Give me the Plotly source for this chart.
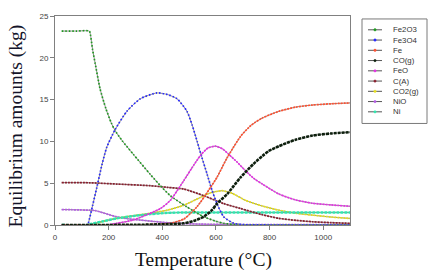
import plotly.graph_objects as go

# ---------------- data ----------------
fe2o3_x = [25, 80, 128, 132, 140, 150, 168, 190, 210, 224, 250, 291, 354, 393, 430, 492, 555, 600, 629, 670, 720, 800, 1100]
fe2o3_y = [23.2, 23.2, 23.2, 22.8, 21.0, 19.3, 16.3, 13.9, 12.2, 11.3, 10.1, 8.5, 6.1, 4.7, 3.5, 2.16, 0.98, 0.45, 0.2, 0.06, 0.01, 0.0, 0.0]

fe3o4_x = [25, 121, 125, 140, 156, 175, 193, 224, 268, 318, 380, 420, 455, 492, 511, 530, 548, 567, 586, 604, 629, 667, 700, 800, 1100]
fe3o4_y = [0.0, 0.0, 0.3, 2.3, 4.5, 7.2, 9.3, 11.4, 13.6, 15.1, 15.8, 15.6, 15.1, 13.6, 12.0, 10.0, 8.05, 6.1, 4.1, 2.56, 0.98, 0.2, 0.05, 0.0, 0.0]

fe_x = [25, 300, 350, 400, 430, 480, 505, 530, 555, 580, 604, 642, 692, 730, 773, 835, 897, 960, 1030, 1100]
fe_y = [0.0, 0.0, 0.05, 0.12, 0.2, 0.7, 1.38, 2.2, 3.3, 4.5, 5.7, 8.05, 10.6, 11.9, 12.8, 13.6, 14.1, 14.35, 14.5, 14.6]

co_x = [25, 300, 393, 480, 523, 555, 586, 604, 642, 692, 740, 773, 797, 835, 897, 960, 1030, 1100]
co_y = [0.0, 0.02, 0.08, 0.2, 0.55, 1.0, 1.8, 2.56, 3.7, 5.7, 7.3, 8.25, 8.85, 9.43, 10.2, 10.7, 10.95, 11.1]

feo_x = [25, 190, 230, 292, 393, 430, 480, 510, 542, 570, 598, 625, 648, 680, 710, 740, 773, 835, 897, 960, 1030, 1100]
feo_y = [0.0, 0.0, 0.2, 0.6, 1.97, 2.95, 5.3, 6.8, 8.3, 9.2, 9.43, 9.1, 8.45, 7.5, 6.5, 5.6, 4.9, 3.7, 3.0, 2.6, 2.4, 2.24]

ca_x = [25, 130, 230, 355, 420, 480, 555, 629, 692, 770, 834, 900, 960, 1030, 1100]
ca_y = [5.07, 5.05, 4.9, 4.7, 4.5, 4.3, 3.5, 2.56, 1.97, 1.25, 0.8, 0.55, 0.39, 0.28, 0.2]

co2_x = [25, 125, 143, 180, 230, 300, 355, 418, 480, 542, 580, 623, 660, 710, 770, 835, 900, 960, 1030, 1100]
co2_y = [0.0, 0.0, 0.1, 0.45, 0.8, 1.15, 1.4, 1.77, 2.36, 3.3, 3.85, 4.1, 3.8, 2.95, 2.3, 1.77, 1.4, 1.18, 0.95, 0.79]

nio_x = [25, 131, 150, 168, 200, 230, 270, 318, 370, 417, 480, 542, 700, 1100]
nio_y = [1.85, 1.77, 1.72, 1.57, 1.25, 0.98, 0.75, 0.59, 0.42, 0.28, 0.17, 0.1, 0.06, 0.05]

ni_x = [25, 125, 131, 180, 230, 300, 355, 420, 480, 600, 800, 1100]
ni_y = [0.0, 0.0, 0.1, 0.45, 0.79, 1.1, 1.3, 1.45, 1.5, 1.5, 1.5, 1.5]

names = ["Fe2O3", "Fe3O4", "Fe", "CO(g)", "FeO", "C(A)", "CO2(g)", "NiO", "Ni"]
colors = ["#1f9a1f", "#2a2aff", "#ff5030", "#0d1f0d", "#e62ee6", "#8a1f2e", "#e8e01a", "#b45ae6", "#2ee8b0"]
xs = [fe2o3_x, fe3o4_x, fe_x, co_x, feo_x, ca_x, co2_x, nio_x, ni_x]
ys = [fe2o3_y, fe3o4_y, fe_y, co_y, feo_y, ca_y, co2_y, nio_y, ni_y]

x_ticks = [0, 200, 400, 600, 800, 1000]
y_ticks = [0, 5, 10, 15, 20, 25]

# ---------------- figure ----------------
fig = go.Figure()
draw_order = [7, 6, 8, 5, 0, 1, 4, 2, 3]
for i in draw_order:
    # grey underlying line (SigmaPlot style)
    fig.add_trace(go.Scatter(x=xs[i], y=ys[i], mode="lines", showlegend=False,
                             line=dict(color="#8a8a8a", width=1, shape="spline", smoothing=0.6),
                             hoverinfo="skip"))
    w = 1.7
    dash = "2px,1px"
    if names[i] == "CO(g)":
        w, dash = 2.6, "3px,1px"
    elif names[i] == "Ni":
        w, dash = 2.4, "3px,1px"
    elif names[i] in ("Fe2O3", "Fe3O4"):
        dash = "1.5px,2px"
    fig.add_trace(go.Scatter(x=xs[i], y=ys[i], mode="lines", name=names[i], showlegend=False,
                             line=dict(color=colors[i], width=w, dash=dash, shape="spline", smoothing=0.6)))

L, R, T, B = 55, 350, 13, 225
W, H = 434, 278


def px2paper(px, py):
    return (px - L) / (R - L), (B - py) / (B - T)


# custom legend (box, sample lines, dots, labels)
x0, y0 = px2paper(362, 16)
x1, y1 = px2paper(427, 122)
fig.add_shape(type="rect", xref="paper", yref="paper", x0=x0, y0=y1, x1=x1, y1=y0,
              line=dict(color="#7a7a7a", width=1), fillcolor="white", layer="above")
for k, nm in enumerate(names):
    py = 27 + k * 10.4
    lx0, ly = px2paper(368, py)
    lx1, _ = px2paper(382, py)
    cx, _ = px2paper(375, py)
    fig.add_shape(type="line", xref="paper", yref="paper", x0=lx0, x1=lx1, y0=ly, y1=ly,
                  line=dict(color="#555555", width=1), layer="above")
    dx = 1.2 / (R - L)
    dy = 1.2 / (B - T)
    fig.add_shape(type="circle", xref="paper", yref="paper", x0=cx - dx, x1=cx + dx,
                  y0=ly - dy, y1=ly + dy, line=dict(color=colors[k], width=0.5),
                  fillcolor=colors[k], layer="above")
    tx, _ = px2paper(391, py)
    fig.add_annotation(x=tx, y=ly, xref="paper", yref="paper", text=nm, showarrow=False,
                       xanchor="left", yanchor="middle",
                       font=dict(family="Arial, Liberation Sans", size=7.8, color="#333333"))

# axis titles
tx, ty = px2paper(203, 261)
fig.add_annotation(x=tx, y=ty, xref="paper", yref="paper", text="Temperature (°C)", showarrow=False,
                   xanchor="center", yanchor="middle",
                   font=dict(family="Liberation Serif, Times New Roman, serif", size=19.5, color="#111111"))
tx, ty = px2paper(16, 125)
fig.add_annotation(x=tx, y=ty, xref="paper", yref="paper", text="Equilibrium amounts (kg)", showarrow=False,
                   textangle=-90, xanchor="center", yanchor="middle",
                   font=dict(family="Liberation Serif, Times New Roman, serif", size=19.5, color="#14142a"))

axis_common = dict(showgrid=False, zeroline=False, showline=True, linecolor="#808080", linewidth=1,
                   mirror=True, ticks="outside", ticklen=4, tickcolor="#808080",
                   tickfont=dict(family="Arial, Liberation Sans", size=8, color="#444444"))
fig.update_xaxes(range=[0, 1100], tickvals=x_ticks, **axis_common)
fig.update_yaxes(range=[0, 25], tickvals=y_ticks, **axis_common)

fig.update_layout(width=W, height=H, margin=dict(l=L, r=W - R, t=T, b=H - B, pad=0),
                  paper_bgcolor="white", plot_bgcolor="white", showlegend=False)

fig.write_html("out.html", config={"displayModeBar": False},
               post_script="document.body.style.margin='0';document.body.style.padding='0';")
